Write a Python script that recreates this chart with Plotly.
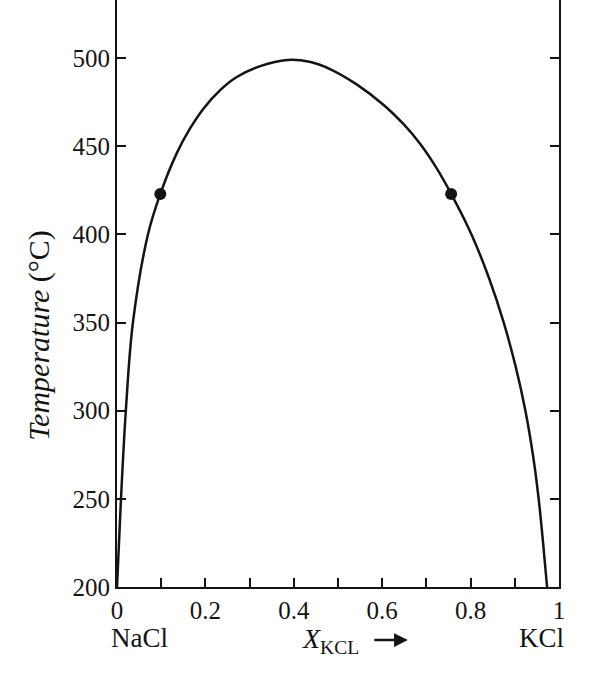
import plotly.graph_objects as go

# Solvus curve (mole fraction KCl vs temperature in °C)
solvus_x = [0.000, 0.009, 0.020, 0.036, 0.070, 0.098, 0.135, 0.165, 0.196, 0.234,
            0.271, 0.324, 0.385, 0.438, 0.483, 0.543, 0.604, 0.649, 0.687, 0.722,
            0.756, 0.802, 0.842, 0.875, 0.902, 0.924, 0.941, 0.954, 0.964, 0.973]
solvus_t = [200, 250, 300, 350, 400, 423, 446, 460, 471.5, 482,
            489.3, 495.5, 499, 497.8, 493.7, 485, 473.3, 462.4, 451, 438,
            423, 400, 375, 350, 325, 300, 275, 250, 225, 200]

# Marked points on the curve
dot_x = [0.098, 0.756]
dot_t = [423, 423]

x_tickvals = [0, 0.1, 0.2, 0.3, 0.4, 0.5, 0.6, 0.7, 0.8, 0.9, 1.0]
x_ticktext = ["0", " ", "0.2", " ", "0.4", " ", "0.6", " ", "0.8", " ", "1"]
y_tickvals = [200, 250, 300, 350, 400, 450, 500]

FONT = "Liberation Serif"
INK = "#141414"

fig = go.Figure()
fig.add_trace(go.Scatter(
    x=solvus_x, y=solvus_t, mode="lines",
    line=dict(color=INK, width=2.5, shape="spline", smoothing=1.0),
    hoverinfo="skip", showlegend=False))
fig.add_trace(go.Scatter(
    x=dot_x, y=dot_t, mode="markers",
    marker=dict(color=INK, size=12),
    showlegend=False))

fig.update_layout(
    width=600, height=684,
    margin=dict(l=117, r=41, t=0, b=97),
    paper_bgcolor="white", plot_bgcolor="white",
    font=dict(family=FONT, size=25, color=INK),
    xaxis=dict(range=[0, 1], tickvals=x_tickvals, ticktext=x_ticktext,
               ticks="inside", ticklen=9, tickwidth=1.8, tickcolor=INK,
               showline=True, linewidth=2, linecolor=INK, showgrid=False,
               zeroline=False, tickfont=dict(family=FONT, size=25)),
    yaxis=dict(range=[200, 533], tickvals=y_tickvals,
               ticks="inside", ticklen=9, tickwidth=1.8, tickcolor=INK,
               showline=True, linewidth=2, linecolor=INK, mirror="ticks",
               showgrid=False, zeroline=False,
               tickfont=dict(family=FONT, size=25)),
    annotations=[
        dict(text="<i>Temperature</i> (°C)", textangle=-90, xref="paper", yref="paper",
             x=-0.175, y=0.429, xanchor="center", yanchor="middle", showarrow=False,
             font=dict(family=FONT, size=30, color=INK)),
        dict(text="NaCl", xref="paper", yref="paper", x=0.052, y=0,
             xanchor="center", yanchor="middle", yshift=-51, showarrow=False,
             font=dict(family=FONT, size=27, color=INK)),
        dict(text="KCl", xref="paper", yref="paper", x=0.961, y=0,
             xanchor="center", yanchor="middle", yshift=-51, showarrow=False,
             font=dict(family=FONT, size=27, color=INK)),
        dict(text="<i>X</i><sub>KCL</sub>", xref="paper", yref="paper", x=0.551, y=0,
             xanchor="right", yanchor="middle", yshift=-53, showarrow=False,
             font=dict(family=FONT, size=28, color=INK)),
        dict(text="", xref="paper", yref="paper", x=0.658, y=0, yshift=-53,
             showarrow=True, ax=-35, ay=0, arrowhead=2, arrowsize=1.1,
             arrowwidth=2.5, arrowcolor=INK),
    ],
)

fig.write_html("out.html")
